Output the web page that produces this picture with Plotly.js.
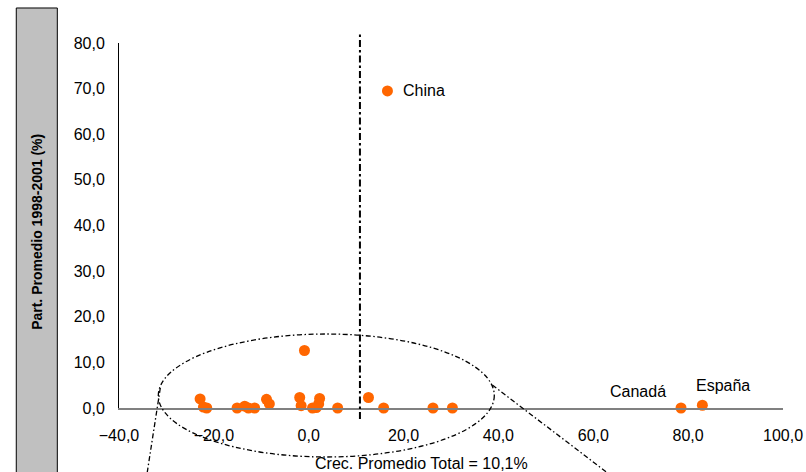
<!DOCTYPE html>
<html>
<head>
<meta charset="utf-8">
<script src="https://cdn.plot.ly/plotly-3.0.1.min.js"></script>
<style>html,body{margin:0;padding:0;background:#fff}#chart{width:806px;height:472px}</style>
</head>
<body>
<div id="chart"></div>
<script>
// Crecimiento promedio (%) vs participación promedio 1998-2001 (%)
const growth = [-22.9, -22.2, -21.5, -15.1, -13.5, -12.7, -11.4, -8.9, -8.3, -1.9, -1.6, -0.9, 0.8, 1.6, 2.1, 2.3, 6.1, 12.6, 15.8, 26.2, 30.3, 16.6, 78.5, 83.0];
const share  = [2.0, 0.2, 0.0, 0.0, 0.4, 0.0, 0.0, 1.9, 0.9, 2.3, 0.5, 12.6, 0.0, 0.1, 0.9, 2.1, 0.0, 2.3, 0.0, 0.0, 0.0, 69.5, 0.0, 0.6];
const labels = ["", "", "", "", "", "", "", "", "", "", "", "", "", "", "", "", "", "", "", "", "", "China", "Canadá", "España"];
const xTicks = [-40, -20, 0, 20, 40, 60, 80, 100];
const yTicks = [0, 10, 20, 30, 40, 50, 60, 70, 80];
const avgGrowthText = "10,1";
const avgLineX = 10.8;
const yTitle = "Part. Promedio 1998-2001 (%)";
const xTitle = "Crec. Promedio Total = " + avgGrowthText + "%";

const font = "'Liberation Sans', Arial, sans-serif";
const orange = "#FF6600";

// label offsets per labelled point: [xshift, yshift, xanchor]
const labelStyle = {
  "China": [14, 0, "left"],
  "Canadá": [-13, 17, "right"],
  "España": [21, 20, "center"]
};

const annotations = [];
labels.forEach((t, i) => {
  if (!t) return;
  const s = labelStyle[t];
  annotations.push({
    x: growth[i], y: share[i], xref: "x", yref: "y", text: t, showarrow: false,
    xanchor: s[2], yanchor: "middle", xshift: s[0], yshift: s[1],
    font: {family: font, size: 16, color: "#000"}
  });
});
annotations.push({
  xref: "paper", yref: "paper", x: -0.1238, y: 0.482, text: "<b>" + yTitle + "</b>",
  textangle: -90, showarrow: false, xanchor: "center", yanchor: "middle",
  font: {family: font, size: 14, color: "#000"}
});
annotations.push({
  xref: "paper", yref: "paper", x: 0.455, y: -0.153, text: xTitle,
  showarrow: false, xanchor: "center", yanchor: "middle",
  font: {family: font, size: 16, color: "#000"}
});

const vDash = "7px,3px,2.5px,3px";
const eDash = "5px,2.5px,1.5px,2.5px";
const shapes = [
  {type: "rect", xref: "paper", yref: "paper", x0: -0.1547, x1: -0.0929, y0: -0.3, y1: 1.0959,
   fillcolor: "#C0C0C0", line: {color: "#000", width: 1}, layer: "below"},
  {type: "line", xref: "x", yref: "paper", x0: avgLineX, x1: avgLineX, y0: -0.03, y1: 1.027,
   line: {color: "#000", width: 2, dash: vDash}},
  {type: "circle", xref: "paper", yref: "paper", x0: 0.0592, x1: 0.5652, y0: -0.1342, y1: 0.2027,
   line: {color: "#000", width: 1.3, dash: eDash}},
  {type: "line", xref: "paper", yref: "paper", x0: 0.0622, y0: 0.0548, x1: 0.0426, y1: -0.1753,
   line: {color: "#000", width: 1.3, dash: eDash}},
  {type: "line", xref: "paper", yref: "paper", x0: 0.5622, y0: 0.063, x1: 0.7339, y1: -0.1753,
   line: {color: "#000", width: 1.3, dash: eDash}}
];

const trace = {
  type: "scatter", mode: "markers", x: growth, y: share,
  marker: {color: orange, size: 11, line: {width: 0}},
  cliponaxis: false, hoverinfo: "skip"
};

const layout = {
  width: 806, height: 472,
  margin: {l: 119, r: 23, t: 43, b: 64, pad: 0},
  paper_bgcolor: "#fff", plot_bgcolor: "rgba(0,0,0,0)",
  showlegend: false,
  separators: ",.",
  font: {family: font, size: 16, color: "#000"},
  xaxis: {
    range: [-40, 100], tickvals: xTicks, tickformat: ".1f",
    showgrid: false, zeroline: false, showline: true, linecolor: "#808080", linewidth: 2,
    ticks: "outside", ticklen: 12, tickcolor: "rgba(0,0,0,0)",
    tickfont: {family: font, size: 16, color: "#000"}, fixedrange: true
  },
  yaxis: {
    range: [0, 80], tickvals: yTicks, tickformat: ".1f",
    showgrid: false, zeroline: false, showline: true, linecolor: "#000", linewidth: 1,
    ticks: "outside", ticklen: 10, tickcolor: "rgba(0,0,0,0)",
    tickfont: {family: font, size: 16, color: "#000"}, fixedrange: true
  },
  shapes: shapes,
  annotations: annotations
};

Plotly.newPlot("chart", [trace], layout, {displayModeBar: false, staticPlot: true});
</script>
</body>
</html>
